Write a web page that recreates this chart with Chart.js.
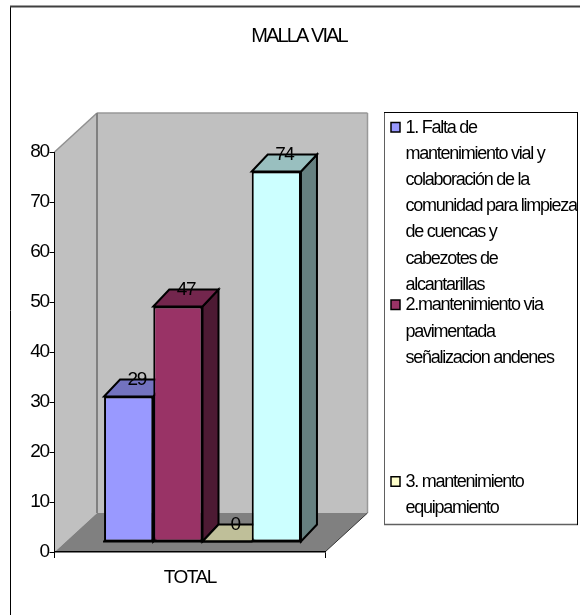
<!DOCTYPE html>
<html><head><meta charset="utf-8">
<style>html,body{margin:0;padding:0;background:#fff}canvas{display:block}</style>
<script src="https://cdn.jsdelivr.net/npm/chart.js@4"></script>
</head><body>
<div style="width:580px;height:615px"><canvas id="c" width="580" height="615"></canvas></div>
<script>
const chartTitle = 'MALLA VIAL';
const categories = ['TOTAL'];
const series1 = [29];
const series2 = [47];
const series3 = [0];
const series4 = [74];
const frontColors = ['#9999FF', '#993366', '#FFFFCC', '#CCFFFF'];
const topColors = ['#7373BF', '#73264D', '#BFBF99', '#99BFBF'];
const sideColors = ['#4D4D80', '#4D1A33', '#808066', '#668080'];
const legendItems = [
  {color: '#9999FF', y: 132.5, step: 26.2, lines: ['1. Falta de', 'mantenimiento vial y', 'colaboración de la', 'comunidad para limpieza', 'de cuencas y', 'cabezotes de', 'alcantarillas']},
  {color: '#993366', y: 310, step: 26.5, lines: ['2.mantenimiento via', 'pavimentada', 'señalizacion andenes']},
  {color: '#FFFFCC', y: 486.7, step: 26.3, lines: ['3. mantenimiento', 'equipamiento']}
];

const FONT = '"Liberation Sans", Arial, sans-serif';
const BAR_SHIFT = 12.75, BAR_DX = 16, BAR_DY = 17, WALL_DX = 42.5, WALL_DY = 39;

function poly(ctx, pts, fill, stroke, lw) {
  ctx.beginPath();
  pts.forEach((p, i) => i ? ctx.lineTo(p[0], p[1]) : ctx.moveTo(p[0], p[1]));
  ctx.closePath();
  if (fill) { ctx.fillStyle = fill; ctx.fill(); }
  if (stroke) { ctx.strokeStyle = stroke; ctx.lineWidth = lw; ctx.lineJoin = 'miter'; ctx.stroke(); }
}
function seg(ctx, x1, y1, x2, y2, color, lw) {
  ctx.beginPath(); ctx.moveTo(x1, y1); ctx.lineTo(x2, y2);
  ctx.strokeStyle = color; ctx.lineWidth = lw; ctx.stroke();
}

const scene3d = {
  id: 'scene3d',
  beforeDraw(chart) {
    const ctx = chart.ctx, a = chart.chartArea;
    ctx.letterSpacing = '-1.5px';
    const L = a.left, R = a.right, T = a.top, B = a.bottom;
    const bx = L + WALL_DX, by = B - WALL_DY, ty = T - WALL_DY, rx = R + WALL_DX;
    ctx.save();
    // outer frame
    seg(ctx, 10.5, 6, 10.5, 615, '#000', 1);
    seg(ctx, 10, 6.5, 580, 6.5, '#404040', 2);
    // walls and floor
    poly(ctx, [[L, B], [L, T], [bx, ty], [bx, by]], '#C0C0C0');
    poly(ctx, [[bx, ty], [rx, ty], [rx, by], [bx, by]], '#C0C0C0');
    poly(ctx, [[L, B], [R, B], [rx, by], [bx, by]], '#808080');
    seg(ctx, L, T, bx, ty, '#909090', 1.5);
    seg(ctx, bx, ty, rx, ty, '#999', 1.5);
    seg(ctx, rx, ty, rx, by, '#999', 1.5);
    seg(ctx, bx, ty, bx, by, '#808080', 2);
    seg(ctx, R, B, rx, by, '#333', 1);
    // title
    ctx.fillStyle = '#000';
    ctx.font = '20px ' + FONT;
    ctx.letterSpacing = '-1.9px';
    ctx.textAlign = 'center';
    ctx.textBaseline = 'alphabetic';
    ctx.fillText(chartTitle, 299, 42);
    // legend
    poly(ctx, [[384.5, 112.5], [577.5, 112.5], [577.5, 524.5], [384.5, 524.5]], '#fff');
    seg(ctx, 384.5, 112, 384.5, 525, '#606060', 1);
    seg(ctx, 384, 524.5, 578, 524.5, '#606060', 1.5);
    seg(ctx, 384, 112.5, 578, 112.5, '#000', 1);
    seg(ctx, 577.5, 112, 577.5, 525, '#000', 1);
    ctx.font = '18px ' + FONT;
    ctx.letterSpacing = '-1.25px';
    ctx.textAlign = 'left';
    legendItems.forEach(it => {
      poly(ctx, [[391, it.y - 10], [400, it.y - 10], [400, it.y - 0.5], [391, it.y - 0.5]], it.color, '#000', 1.5);
      ctx.fillStyle = '#000';
      it.lines.forEach((t, i) => ctx.fillText(t, 405.5, it.y + i * it.step));
    });
    ctx.restore();
  },
  beforeDatasetsDraw(chart) {
    const ctx = chart.ctx;
    ctx.save();
    chart.data.datasets.forEach((ds, i) => {
      const el = chart.getDatasetMeta(i).data[0];
      const l = el.x - el.width / 2 + BAR_SHIFT, r = el.x + el.width / 2 + BAR_SHIFT;
      const y = el.y, b = el.base;
      poly(ctx, [[r, y], [r + BAR_DX, y - BAR_DY], [r + BAR_DX, b - BAR_DY], [r, b]], sideColors[i], '#000', 2);
      poly(ctx, [[l, y], [l + BAR_DX, y - BAR_DY], [r + BAR_DX, y - BAR_DY], [r, y]], topColors[i], '#000', 2);
    });
    ctx.restore();
  },
  beforeDatasetDraw(chart) { chart.ctx.save(); chart.ctx.translate(BAR_SHIFT, 0); },
  afterDatasetDraw(chart) { chart.ctx.restore(); },
  afterDatasetsDraw(chart) {
    const ctx = chart.ctx;
    ctx.save();
    const n = chart.data.datasets.length;
    const first = chart.getDatasetMeta(0).data[0], last = chart.getDatasetMeta(n - 1).data[0];
    seg(ctx, first.x - first.width / 2 + BAR_SHIFT - 1, last.base, last.x + last.width / 2 + BAR_SHIFT + 1, last.base, '#000', 2);
    ctx.fillStyle = '#000';
    ctx.font = '19px ' + FONT;
    ctx.letterSpacing = '-1.5px';
    ctx.textAlign = 'center';
    ctx.textBaseline = 'middle';
    chart.data.datasets.forEach((ds, i) => {
      const el = chart.getDatasetMeta(i).data[0];
      ctx.fillText(String(ds.data[0]), el.x + BAR_SHIFT + 8, el.y - BAR_DY + 0.5);
    });
    ctx.restore();
  }
};

const barOpts = {yAxisID: 'yBars', borderColor: '#000', borderWidth: 2, borderSkipped: false,
  barPercentage: 1, categoryPercentage: 0.728, clip: false};

new Chart(document.getElementById('c'), {
  type: 'bar',
  data: {
    labels: categories,
    datasets: [
      {label: legendItems[0].lines.join(' '), data: series1, backgroundColor: frontColors[0], ...barOpts},
      {label: legendItems[1].lines.join(' '), data: series2, backgroundColor: frontColors[1], ...barOpts},
      {label: legendItems[2].lines.join(' '), data: series3, backgroundColor: frontColors[2], ...barOpts},
      {label: 'Serie 4', data: series4, backgroundColor: frontColors[3], ...barOpts}
    ]
  },
  plugins: [scene3d],
  options: {
    responsive: false,
    animation: false,
    layout: {padding: {left: 0, right: 255, top: 152, bottom: 0}},
    plugins: {legend: {display: false}, title: {display: false}, tooltip: {enabled: false}},
    scales: {
      x: {
        grid: {drawOnChartArea: false, drawTicks: true, tickLength: 6, color: '#000', offset: true},
        border: {color: '#000', width: 1.5},
        ticks: {color: '#000', font: {family: FONT, size: 19}, padding: 8, maxRotation: 0},
        afterFit(s) { s.height = 63; }
      },
      y: {
        min: 0, max: 80,
        grid: {drawOnChartArea: false, drawTicks: true, tickLength: 5, color: '#000'},
        border: {color: '#000', width: 1},
        ticks: {stepSize: 10, color: '#000', font: {family: FONT, size: 19}, padding: 1},
        afterFit(s) { s.width = 54.5; }
      },
      yBars: {display: false, min: -2.1, max: 77.9}
    }
  }
});
</script>
</body></html>
